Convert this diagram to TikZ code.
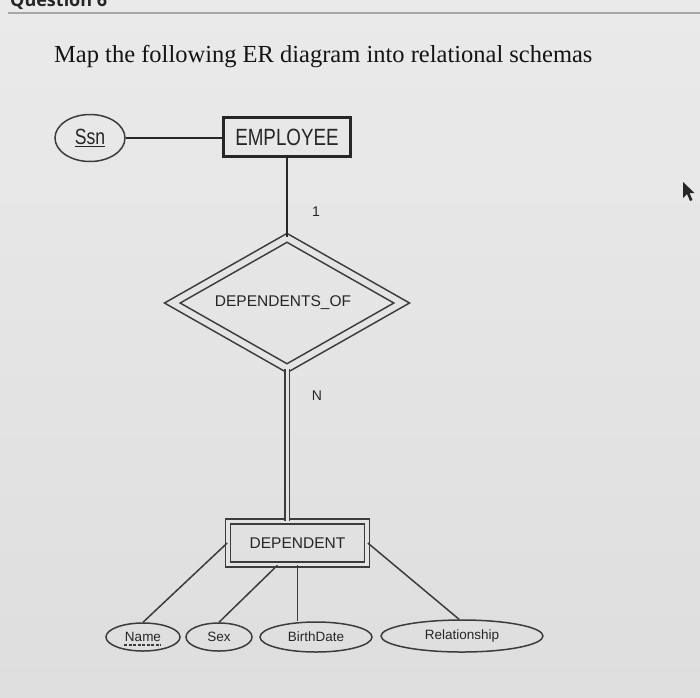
\documentclass[tikz,border=0pt]{standalone}
\usepackage{fontspec}
\setmainfont{Liberation Serif}
\setsansfont{Liberation Sans}
\newfontfamily\condsf[FakeStretch=0.8]{Liberation Sans}
\newfontfamily\hdrfont{Open Sans}
\usetikzlibrary{shapes.geometric}
\definecolor{bg}{HTML}{E4E4E4}
\definecolor{bgtop}{HTML}{EAEAEA}
\definecolor{bgbot}{HTML}{DEDEDE}
\definecolor{ink}{HTML}{262626}
\definecolor{soft}{HTML}{3C3C3C}
\begin{document}
\begin{tikzpicture}[x=1pt,y=-1pt,
  entity/.style={draw=ink, line width=3pt, rectangle, minimum width=127pt, minimum height=39pt, inner sep=0pt, font=\condsf\fontsize{23.5}{23.5}\selectfont, text=ink},
  weakent/.style={draw=soft, line width=1.6pt, double=bg, double distance=3.5pt, rectangle, minimum width=139pt, minimum height=43pt, inner sep=0pt, font=\sffamily\fontsize{15.5}{15.5}\selectfont, text=ink},
  idrel/.style={draw=soft, line width=1.6pt, double=bg, double distance=6pt, diamond, aspect=1.75, minimum width=230pt, minimum height=131pt, inner sep=0pt, font=\sffamily\fontsize{15.5}{15.5}\selectfont, text=ink},
  attr/.style={draw=soft, line width=1.5pt, ellipse, inner sep=0pt, font=\sffamily\fontsize{13.5}{13.5}\selectfont, text=ink},
  conn/.style={draw=ink, line width=1.8pt},
  thin conn/.style={draw=soft, line width=1.5pt},
  card/.style={font=\sffamily\fontsize{14}{14}\selectfont, text=ink, inner sep=0pt}
]
\useasboundingbox (0,0) rectangle (700,697);
\shade[top color=bgtop, bottom color=bgbot] (0,0) rectangle (700,697);

% header
\node[anchor=base west, inner sep=0pt, font=\hdrfont\bfseries\fontsize{18}{18}\selectfont, text=ink] (q) at (10,6) {Question 6};
\coordinate (sepA) at (8,13);
\coordinate (sepB) at (700,13);
\draw[line width=1.5pt, color=black!35] (sepA) -- (sepB);

% title
\node[anchor=base west, inner sep=0pt, font=\fontsize{24.5}{24.5}\selectfont, text=black!92] (title) at (54,62) {Map the following ER diagram into relational schemas};

% nodes
\node[attr, minimum width=70pt, minimum height=47pt, font=\condsf\fontsize{22}{22}\selectfont] (ssn) at (90,138) {\underline{Ssn}};
\node[entity] (emp) at (287,137) {EMPLOYEE};
\node[idrel] (dep_of) at (287,303) {DEPENDENTS\_OF\hspace*{8pt}};
\node[weakent] (dep) at (297.5,543) {DEPENDENT};

\node[attr, minimum width=74pt, minimum height=28pt] (name) at (143,637) {Name};
\coordinate (nuA) at (124,645);
\coordinate (nuB) at (161,645);
\draw[draw=soft, line width=1.2pt, dash pattern=on 3pt off 1.5pt] (nuA) -- (nuB);
\node[attr, minimum width=66pt, minimum height=28pt] (sex) at (219,637) {Sex};
\node[attr, minimum width=112pt, minimum height=30pt] (birth) at (316,637) {BirthDate};
\node[attr, minimum width=162pt, minimum height=32pt] (rel) at (462,636) {Relationship};

% connectors
\draw[conn] (ssn.east) -- (emp.west |- ssn.east);
\draw[conn] (emp.south) -- (dep_of.north);
\draw[draw=soft, line width=1.5pt, double=bg, double distance=3pt] (dep_of.south) -- (dep_of.south |- dep.north);
\draw[thin conn] (dep.west) -- (name.north);
\draw[thin conn] (dep.228) -- (sex.north);
\draw[thin conn] (dep.south) -- (dep.south |- birth.north);
\draw[thin conn] (dep.east) -- (rel.100);

% cardinalities
\node[card] (one) at (316,212) {1};
\node[card] (n) at (317,396) {N};

% mouse cursor
\fill[black!85] (683,182) -- (683,198) -- (687,194) -- (690,201) -- (692.5,200) -- (689.5,193) -- (694.5,193) -- cycle;
\end{tikzpicture}
\end{document}
